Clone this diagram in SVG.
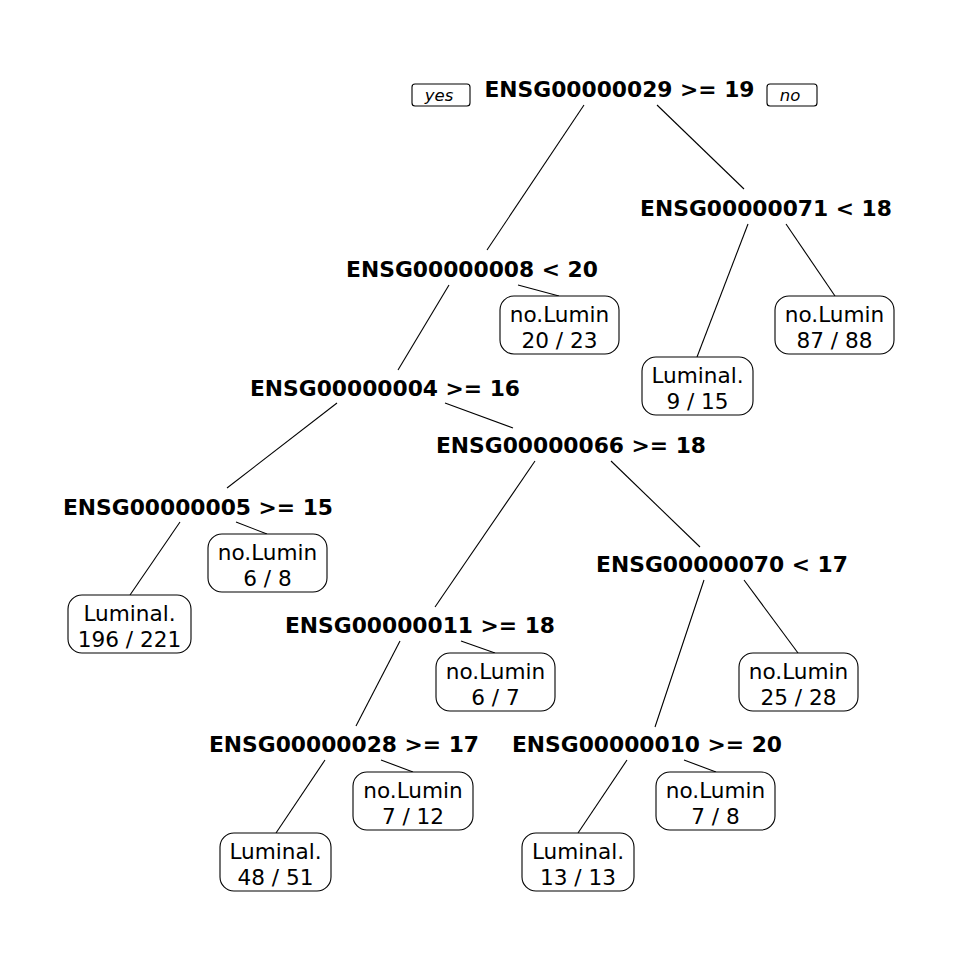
<svg xmlns="http://www.w3.org/2000/svg" width="960" height="960" viewBox="0 0 960 960">
<style>
.bg{fill:#fff}
.split{font-family:"DejaVu Sans",sans-serif;font-weight:bold;font-size:21.8px;text-anchor:middle;fill:#000}
.leaf rect{fill:#fff;stroke:#000;stroke-width:1.1}
.leaf text{font-family:"DejaVu Sans",sans-serif;font-size:21.6px;text-anchor:middle;fill:#000}
.yn rect{fill:#fff;stroke:#000;stroke-width:1.1}
.yn text{font-family:"DejaVu Sans",sans-serif;font-style:italic;font-size:16.5px;text-anchor:middle;fill:#000}
#connectors line{stroke:#000;stroke-width:1.1}
</style>
<rect class="bg" x="0" y="0" width="960" height="960"/>
<g id="connectors">
<line x1="584" y1="105" x2="487" y2="250"/>
<line x1="657" y1="105" x2="744" y2="189"/>
<line x1="748" y1="224" x2="697" y2="357"/>
<line x1="786" y1="224" x2="835" y2="296"/>
<line x1="449" y1="285" x2="398" y2="370"/>
<line x1="518" y1="285" x2="559" y2="296"/>
<line x1="337" y1="403" x2="227" y2="488"/>
<line x1="445" y1="403" x2="513" y2="428"/>
<line x1="180" y1="522" x2="130" y2="595"/>
<line x1="236" y1="522" x2="267" y2="534"/>
<line x1="535" y1="461" x2="435" y2="607"/>
<line x1="611" y1="461" x2="700" y2="547"/>
<line x1="400" y1="641" x2="356" y2="726"/>
<line x1="461" y1="641" x2="495" y2="653"/>
<line x1="325" y1="760" x2="276" y2="833"/>
<line x1="381" y1="760" x2="413" y2="772"/>
<line x1="704" y1="580" x2="655" y2="727"/>
<line x1="744" y1="580" x2="798" y2="653"/>
<line x1="627" y1="760" x2="578" y2="833"/>
<line x1="684" y1="760" x2="716" y2="772"/>
</g>
<g id="yes" class="yn"><rect x="412" y="84" width="58" height="22" rx="3"/><text x="439" y="101">yes</text></g>
<g id="no" class="yn"><rect x="767" y="84" width="50" height="22" rx="3"/><text x="790" y="101">no</text></g>
<g id="n1"><text class="split" x="619.5" y="97">ENSG00000029 &gt;= 19</text></g>
<g id="n2"><text class="split" x="766" y="216">ENSG00000071 &lt; 18</text></g>
<g id="n3"><text class="split" x="472" y="277">ENSG00000008 &lt; 20</text></g>
<g id="n4"><text class="split" x="385" y="396">ENSG00000004 &gt;= 16</text></g>
<g id="n5"><text class="split" x="198" y="515">ENSG00000005 &gt;= 15</text></g>
<g id="n6"><text class="split" x="571" y="453">ENSG00000066 &gt;= 18</text></g>
<g id="n7"><text class="split" x="420" y="633">ENSG00000011 &gt;= 18</text></g>
<g id="n8"><text class="split" x="344" y="752">ENSG00000028 &gt;= 17</text></g>
<g id="n9"><text class="split" x="722" y="572">ENSG00000070 &lt; 17</text></g>
<g id="n10"><text class="split" x="647" y="752">ENSG00000010 &gt;= 20</text></g>
<g id="l1" class="leaf"><rect x="642" y="357" width="111" height="58" rx="14"/><text x="697.5" y="382.5">Luminal.</text><text x="697.5" y="408.5">9 / 15</text></g>
<g id="l2" class="leaf"><rect x="775" y="296" width="119" height="58" rx="14"/><text x="834.5" y="321.5">no.Lumin</text><text x="834.5" y="347.5">87 / 88</text></g>
<g id="l3" class="leaf"><rect x="500" y="296" width="119" height="58" rx="14"/><text x="559.5" y="321.5">no.Lumin</text><text x="559.5" y="347.5">20 / 23</text></g>
<g id="l4" class="leaf"><rect x="68" y="595" width="123" height="58" rx="14"/><text x="129.5" y="620.5">Luminal.</text><text x="129.5" y="646.5">196 / 221</text></g>
<g id="l5" class="leaf"><rect x="208" y="534" width="119" height="58" rx="14"/><text x="267.5" y="559.5">no.Lumin</text><text x="267.5" y="585.5">6 / 8</text></g>
<g id="l6" class="leaf"><rect x="436" y="653" width="119" height="58" rx="14"/><text x="495.5" y="678.5">no.Lumin</text><text x="495.5" y="704.5">6 / 7</text></g>
<g id="l7" class="leaf"><rect x="220" y="833" width="111" height="58" rx="14"/><text x="275.5" y="858.5">Luminal.</text><text x="275.5" y="884.5">48 / 51</text></g>
<g id="l8" class="leaf"><rect x="353" y="772" width="120" height="58" rx="14"/><text x="413" y="797.5">no.Lumin</text><text x="413" y="823.5">7 / 12</text></g>
<g id="l9" class="leaf"><rect x="739" y="653" width="119" height="58" rx="14"/><text x="798.5" y="678.5">no.Lumin</text><text x="798.5" y="704.5">25 / 28</text></g>
<g id="l10" class="leaf"><rect x="522" y="833" width="112" height="58" rx="14"/><text x="578" y="858.5">Luminal.</text><text x="578" y="884.5">13 / 13</text></g>
<g id="l11" class="leaf"><rect x="656" y="772" width="119" height="58" rx="14"/><text x="715.5" y="797.5">no.Lumin</text><text x="715.5" y="823.5">7 / 8</text></g>
</svg>
